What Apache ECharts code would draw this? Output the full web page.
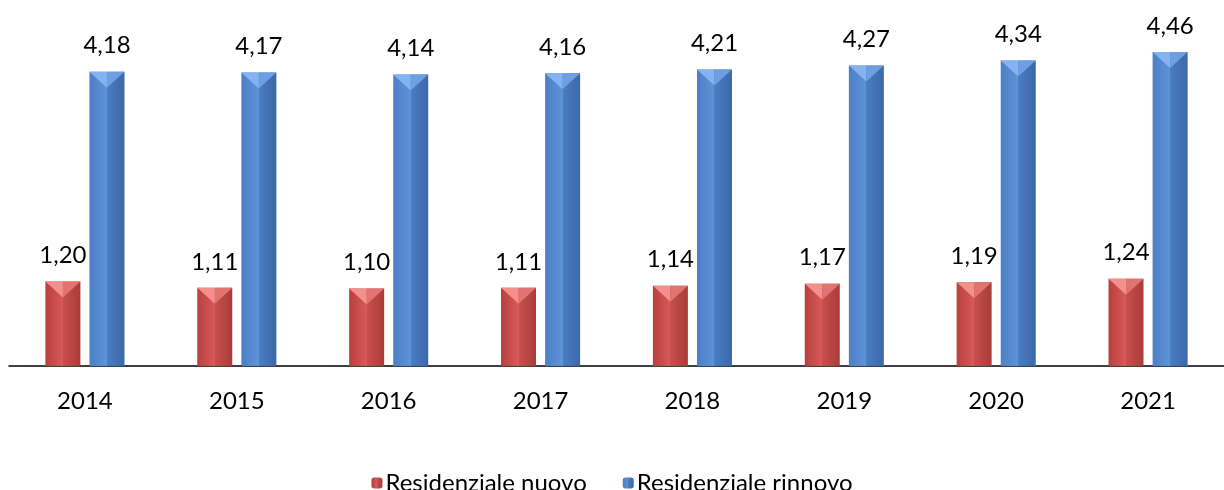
<!DOCTYPE html>
<html><head><meta charset="utf-8">
<script src="https://cdn.jsdelivr.net/npm/echarts@6/dist/echarts.min.js"></script>
<style>html,body{margin:0;padding:0;background:#fff}#c{width:1224px;height:490px}</style>
</head><body><div id="c"></div>
<script>
const categories = ['2014','2015','2016','2017','2018','2019','2020','2021'];
const nuovo = [1.20,1.11,1.10,1.11,1.14,1.17,1.19,1.24];
const rinnovo = [4.18,4.17,4.14,4.16,4.21,4.27,4.34,4.46];
const seriesNames = ['Residenziale nuovo','Residenziale rinnovo'];

const FONT = 'Lato, "Open Sans", sans-serif';
function grad(c1,c2,c3,c4){
  return {type:'linear',x:0,y:0,x2:1,y2:0,colorStops:[
    {offset:0,color:c1},{offset:0.5,color:c2},{offset:0.5,color:c3},{offset:1,color:c4}]};
}
const fmt = p => p.value.toFixed(2).replace('.',',');
const BW = 35, GAP = 9;
function chevron(side, light, dark){
  return function(params, api){
    const p = api.coord([api.value(0), api.value(1)]);
    const cx = p[0] + side*(BW+GAP)/2, y = p[1], h = BW/2;
    return {type:'group',children:[
      {type:'polygon',shape:{points:[[cx-h,y],[cx,y],[cx,y+16]]},style:{fill:light}},
      {type:'polygon',shape:{points:[[cx,y],[cx+h,y],[cx,y+16]]},style:{fill:dark}}
    ]};
  };
}
const chart = echarts.init(document.getElementById('c'));
chart.setOption({
  animation:false,
  grid:{left:9,right:-5,top:14,bottom:124,containLabel:false},
  legend:{top:466,left:'center',itemWidth:11,itemHeight:11,itemGap:36,
    textStyle:{fontFamily:FONT,fontSize:24,color:'#000',padding:[0,0,0,-2]},
    data:seriesNames},
  xAxis:{type:'category',data:categories,
    axisLine:{lineStyle:{color:'#000',width:1.5}},axisTick:{show:false},
    axisLabel:{fontFamily:FONT,fontSize:24,color:'#000',margin:23}},
  yAxis:{type:'value',min:0,max:5,show:false,splitLine:{show:false}},
  series:[
    {name:seriesNames[0],type:'bar',data:nuovo,barWidth:BW,barGap:'26%',
     itemStyle:{color:grad('#b8403e','#d65a58','#c94f4c','#a83c3a')},
     label:{show:true,position:'top',distance:14,formatter:fmt,fontFamily:FONT,fontSize:24,color:'#000'}},
    {name:seriesNames[1],type:'bar',data:rinnovo,barWidth:BW,
     itemStyle:{color:grad('#4c7fc6','#5e93d8','#4a7dc2','#3b68a8')},
     label:{show:true,position:'top',distance:14,formatter:fmt,fontFamily:FONT,fontSize:24,color:'#000'}},
    {name:'top1',type:'custom',data:nuovo.map((v,i)=>[i,v]),z:5,silent:true,
     renderItem:chevron(-1,'#f2908c','#e27470')},
    {name:'top2',type:'custom',data:rinnovo.map((v,i)=>[i,v]),z:5,silent:true,
     renderItem:chevron(1,'#84b3f0','#6e9fe3')}
  ]
});
</script></body></html>
